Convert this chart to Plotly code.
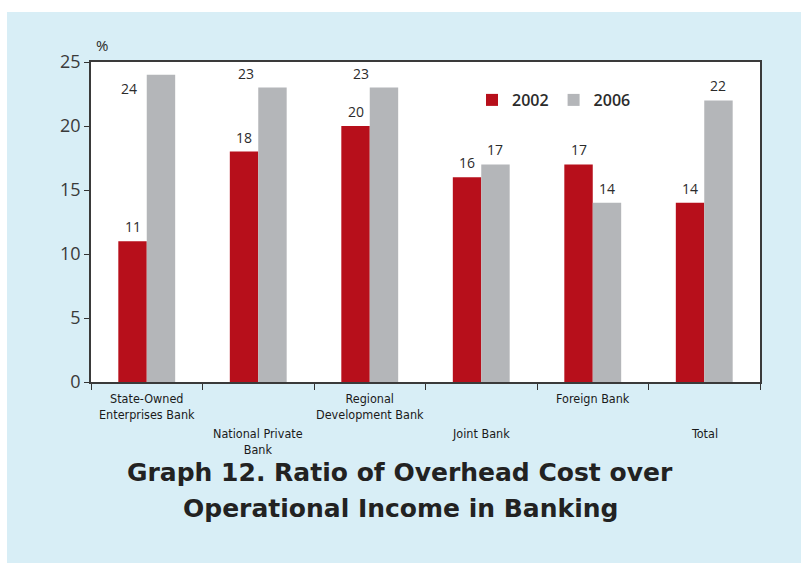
import plotly.graph_objects as go

# ---- data -------------------------------------------------------------
categories = [
    "State-Owned<br>Enterprises Bank",
    "National Private<br>Bank",
    "Regional<br>Development Bank",
    "Joint Bank",
    "Foreign Bank",
    "Total",
]
years = ["2002", "2006"]
ratio_2002 = [11, 18, 20, 16, 17, 14]
ratio_2006 = [24, 23, 23, 17, 14, 22]
y_ticks = [0, 5, 10, 15, 20, 25]
caption_lines = [
    "Graph 12. Ratio of Overhead Cost over",
    "Operational Income in Banking",
]

# ---- layout constants --------------------------------------------------
W, H = 801, 563
M_L, M_R, M_T, M_B = 91, 41, 62, 181
PLOT_W = W - M_L - M_R
PLOT_H = H - M_T - M_B
BARGAP = 0.49

RED = "#b70f1b"
GREY = "#b4b6b9"
PANEL = "#d8eef6"
INK = "#2b2b2b"
NARROW = "Liberation Sans Narrow, Arial Narrow, DejaVu Sans Condensed, sans-serif"
BODY = "Open Sans, DejaVu Sans, sans-serif"
WIDE = "DejaVu Sans, Verdana, sans-serif"

cat_px = PLOT_W / len(categories)
bar_px = cat_px * (1 - BARGAP) / 2


def py(pixel_y):
    """Convert a pixel row of the page into paper coordinates."""
    return (M_T + PLOT_H - pixel_y) / PLOT_H


def px(pixel_x):
    """Convert a pixel column of the page into paper coordinates."""
    return (pixel_x - M_L) / PLOT_W


# per-label nudges (pixels) for value labels that sit beside the bar
label_nudge = {
    ("2006", 0): dict(xshift=-bar_px / 2 - 18, yshift=-14, yanchor="middle"),
    ("2006", 1): dict(xshift=-26),
    ("2006", 2): dict(xshift=-23),
}

fig = go.Figure()
for year, vals, col in [("2002", ratio_2002, RED), ("2006", ratio_2006, GREY)]:
    fig.add_trace(go.Bar(
        x=categories, y=vals, name=year, marker=dict(color=col, line=dict(width=0)),
    ))

annotations = []
# value labels above each bar
for si, (year, vals) in enumerate([("2002", ratio_2002), ("2006", ratio_2006)]):
    centre = (-0.5 + si) * bar_px
    for ci, (cat, v) in enumerate(zip(categories, vals)):
        a = dict(x=cat, y=v, xref="x", yref="y", text=str(v), showarrow=False,
                 xanchor="center", yanchor="bottom", xshift=centre, yshift=3,
                 font=dict(family=BODY, size=14, color=INK))
        n = label_nudge.get((year, ci))
        if n:
            a.update(n)
            a["xshift"] = centre + n["xshift"]
        annotations.append(a)

# staggered category labels under the axis
for ci, cat in enumerate(categories):
    lower = ci % 2 == 1
    annotations.append(dict(
        x=cat, xref="x", yref="paper",
        y=py(424 if lower else 389),
        text=cat, showarrow=False, xanchor="center", yanchor="top",
        align="center", font=dict(family=NARROW, size=12.5, color="#1a1a1a"),
    ))

# unit label
annotations.append(dict(x=px(102), y=py(45), xref="paper", yref="paper",
                        xanchor="center", yanchor="middle",
                        text="%", showarrow=False, font=dict(family=BODY, size=15, color=INK)))

# caption, one annotation per line
for line, row in zip(caption_lines, [472, 508]):
    annotations.append(dict(
        x=px(400), y=py(row), xref="paper", yref="paper",
        xanchor="center", yanchor="middle", showarrow=False,
        text=f"<b>{line}</b>",
        font=dict(family=WIDE, size=25, color="#222222"),
    ))

# white page margin around the tinted panel (top strip and left strip)
shapes = [
    dict(type="rect", xref="paper", yref="paper", layer="below",
         x0=px(0), x1=px(W), y0=py(12), y1=py(0),
         fillcolor="white", line=dict(width=0)),
    dict(type="rect", xref="paper", yref="paper", layer="below",
         x0=px(0), x1=px(7), y0=py(H), y1=py(0),
         fillcolor="white", line=dict(width=0)),
]

fig.update_layout(
    width=W, height=H,
    margin=dict(l=M_L, r=M_R, t=M_T, b=M_B, pad=0),
    paper_bgcolor=PANEL, plot_bgcolor="white",
    barmode="group", bargap=BARGAP, bargroupgap=0,
    showlegend=True,
    legend=dict(orientation="h", x=px(472), y=py(100),
                xanchor="left", yanchor="middle", bgcolor="rgba(0,0,0,0)",
                font=dict(family=BODY, size=16, color=INK, weight=600), itemwidth=30,
                tracegroupgap=0),
    annotations=annotations,
    shapes=shapes,
    font=dict(family=BODY, color=INK),
)

fig.update_xaxes(
    type="category", range=[-0.5, len(categories) - 0.5],
    showticklabels=False, tickson="boundaries", ticks="outside", ticklen=6,
    tickcolor="#333", tickwidth=1.2,
    showline=True, linecolor="#3a3a3a", linewidth=1.5, mirror=True,
    showgrid=False, zeroline=False,
)
fig.update_yaxes(
    range=[0, 25], tickvals=y_ticks, ticks="outside", ticklen=5, tickcolor="#333",
    tickwidth=1.2, tickfont=dict(family=BODY, size=18, color="#3a3a3a"),
    showline=True, linecolor="#3a3a3a", linewidth=1.5, mirror=True,
    showgrid=False, zeroline=False,
)

fig.write_html("out.html")
